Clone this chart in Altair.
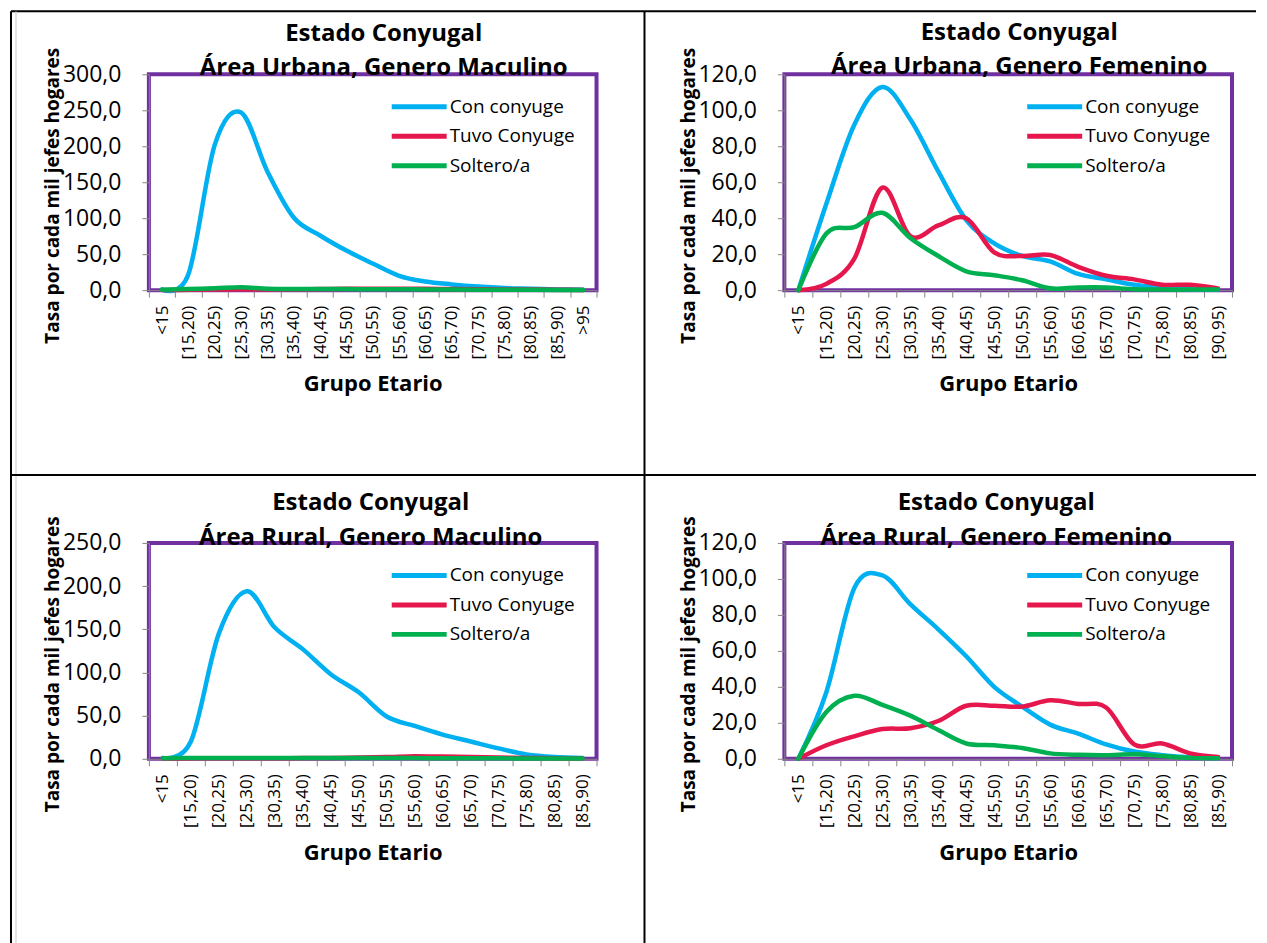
import altair as alt
import pandas as pd

# ---------------- data ----------------
series_names = ["Con conyuge", "Tuvo Conyuge", "Soltero/a"]
series_colors = ["#00B0F0", "#E5174C", "#00B050"]

cats_urb_m = ["<15", "[15,20)", "[20,25)", "[25,30)", "[30,35)", "[35,40)", "[40,45)",
              "[45,50)", "[50,55)", "[55,60)", "[60,65)", "[65,70)", "[70,75)", "[75,80)",
              "[80,85)", "[85,90)", ">95"]
cats_urb_f = ["<15", "[15,20)", "[20,25)", "[25,30)", "[30,35)", "[35,40)", "[40,45)",
              "[45,50)", "[50,55)", "[55,60)", "[60,65)", "[65,70)", "[70,75)", "[75,80)",
              "[80,85)", "[90,95)"]
cats_rur = ["<15", "[15,20)", "[20,25)", "[25,30)", "[30,35)", "[35,40)", "[40,45)",
            "[45,50)", "[50,55)", "[55,60)", "[60,65)", "[65,70)", "[70,75)", "[75,80)",
            "[80,85)", "[85,90)"]

urb_m_con = [1, 22, 202, 247, 165, 101, 76, 55, 37, 20, 12, 8, 5, 3, 2, 1, 0.5]
urb_m_tuvo = [0.2, 0.5, 0.8, 1.2, 1.0, 1.2, 1.5, 2.0, 1.8, 2.0, 1.8, 1.5, 1.2, 1.0, 0.8, 0.5, 0.3]
urb_m_sol = [0.5, 1.5, 2.5, 4.0, 2.0, 1.5, 1.5, 1.5, 1.2, 1.2, 1.0, 0.8, 0.6, 0.5, 0.4, 0.3, 0.2]

urb_f_con = [0, 48, 92, 113, 95, 66, 39, 26, 19, 16, 9, 6, 3, 1.5, 0.5, 0.3]
urb_f_tuvo = [0, 3.5, 17.5, 57, 30, 36, 40, 21, 19, 19.5, 13, 8, 6, 3, 3, 1]
urb_f_sol = [0, 31.5, 35, 43, 29, 19, 10.5, 8.3, 5.5, 1, 1.5, 1.5, 0.5, 0.3, 0.3, 0.3]

rur_m_con = [1, 20, 145, 194, 152, 127, 98, 77, 49, 38, 28, 20, 12, 5, 2, 1]
rur_m_tuvo = [0.3, 0.5, 0.5, 0.5, 0.5, 0.8, 1.0, 1.5, 2.0, 3.0, 2.5, 2.0, 1.5, 1.0, 0.5, 0.3]
rur_m_sol = [0.5, 1, 1, 1, 0.8, 0.8, 0.8, 0.8, 0.8, 0.8, 0.6, 0.5, 0.5, 0.4, 0.3, 0.2]

rur_f_con = [0, 37, 95, 102, 86, 72, 57, 40, 29, 19, 14, 8, 4, 2, 0.8, 0.4]
rur_f_tuvo = [0, 7.5, 12.5, 16.5, 17, 21, 29.5, 29.5, 29, 32.5, 30.5, 28.5, 8, 8.5, 3, 1]
rur_f_sol = [0, 26, 35, 30, 24, 16, 8.5, 7.5, 6, 3, 2.2, 2, 2.5, 1.5, 0.5, 0.3]

yticks_300 = [0, 50, 100, 150, 200, 250, 300]
yticks_250 = [0, 50, 100, 150, 200, 250]
yticks_120 = [0, 20, 40, 60, 80, 100, 120]

title_top = "Estado Conyugal"
sub_urb_m = "Área Urbana, Genero Maculino"
sub_urb_f = "Área Urbana, Genero Femenino"
sub_rur_m = "Área Rural, Genero Maculino"
sub_rur_f = "Área Rural, Genero Femenino"

y_title = "Tasa por cada mil jefes hogares"
x_title = "Grupo Etario"

FONT = "Open Sans"
GRAY = "#868686"
PW, PH = 448, 216


def make_df(cats, con, tuvo, sol):
    rows = []
    for s, vals in zip(series_names, [con, tuvo, sol]):
        for i, (c, v) in enumerate(zip(cats, vals)):
            rows.append({"Grupo": c, "Serie": s, "Valor": v, "idx": i})
    return pd.DataFrame(rows)


def panel(cats, con, tuvo, sol, yticks, subtitle, dx, lh, toff, extra=None):
    df = make_df(cats, con, tuvo, sol)
    ymax = yticks[-1]
    lines = alt.Chart(df).mark_line(
        interpolate="cardinal", tension=0, strokeWidth=4.5, strokeCap="round",
        strokeJoin="round"
    ).encode(
        x=alt.X("Grupo:N", sort=cats, bandPosition=0.5,
                scale=alt.Scale(type="band", paddingInner=0, paddingOuter=0),
                axis=alt.Axis(title=x_title, titleFont=FONT, titleFontSize=22,
                              titleFontWeight="bold", titlePadding=15,
                              labelAngle=270, labelAlign="right", labelBaseline="middle",
                              labelFont=FONT, labelFontSize=17, labelPadding=8,
                              labelOverlap=False, tickSize=7, tickBand="extent",
                              domainColor=GRAY, tickColor=GRAY, labelColor="black",
                              titleColor="black")),
        y=alt.Y("Valor:Q", scale=alt.Scale(domain=[0, ymax], nice=False, zero=True),
                axis=alt.Axis(title=y_title, titleFont=FONT, titleFontSize=19,
                              titleFontWeight="bold", titleAngle=270, titleX=-96,
                              titleY=121, titleAlign="center", titleBaseline="middle",
                              values=yticks, labelFont=FONT, labelFontSize=23,
                              labelPadding=21, tickSize=7, grid=False,
                              labelExpr="replace(format(datum.value, '.1f'), '.', ',')",
                              domainColor=GRAY, tickColor=GRAY, labelColor="black",
                              titleColor="black")),
        color=alt.Color("Serie:N",
                        scale=alt.Scale(domain=series_names, range=series_colors),
                        legend=alt.Legend(title=None, orient="none", legendX=270,
                                          legendY=19, symbolType="M-3.68,0L1.32,0",
                                          symbolSize=484, symbolStrokeWidth=5,
                                          labelFont=FONT, labelFontSize=19,
                                          labelColor="black", labelOffset=4,
                                          rowPadding=5.5, padding=0)),
        order=alt.Order("idx:Q"),
    )
    layers = [lines] + (extra or [])
    return alt.layer(*layers).properties(
        width=PW, height=PH,
        title=alt.TitleParams(text=[title_top, subtitle], font=FONT, fontSize=24,
                              fontWeight="bold", color="black", anchor="middle",
                              baseline="bottom", offset=toff, lineHeight=lh, dx=dx,
                              frame="group"),
    )


def table_rule(x, x2, y, y2, color="black", w=2):
    return alt.Chart(alt.Data(values=[{}])).mark_rule(color=color, strokeWidth=w).encode(
        x=alt.value(x), x2=alt.value(x2), y=alt.value(y), y2=alt.value(y2))


# table borders (relative to the first plot area)
table = [
    table_rule(-138, 1108, -63, -63),
    table_rule(-138, -138, -63, 871),
    table_rule(-133, -133, -63, 871, color="#c8c8c8", w=1),
    table_rule(496, 496, -63, 871),
    table_rule(-138, 1108, 401, 401),
]

tl = panel(cats_urb_m, urb_m_con, urb_m_tuvo, urb_m_sol, yticks_300, sub_urb_m, 11, 34, -93.5, table)
tr = panel(cats_urb_f, urb_f_con, urb_f_tuvo, urb_f_sol, yticks_120, sub_urb_f, 11, 34, -55.5)
bl = panel(cats_rur, rur_m_con, rur_m_tuvo, rur_m_sol, yticks_250, sub_rur_m, -2, 35, -58.5)
br = panel(cats_rur, rur_f_con, rur_f_tuvo, rur_f_sol, yticks_120, sub_rur_f, -12, 35, -58.5)

chart = alt.concat(
    tl, tr, bl, br, columns=2, spacing={"row": 253, "column": 188}, bounds="flush"
).resolve_scale(color="independent").resolve_legend(color="independent").properties(
    padding=0, background="white"
).configure_view(stroke="#7030A0", strokeWidth=4)

chart.save("out.html", embed_options={"renderer": "svg", "actions": False})
